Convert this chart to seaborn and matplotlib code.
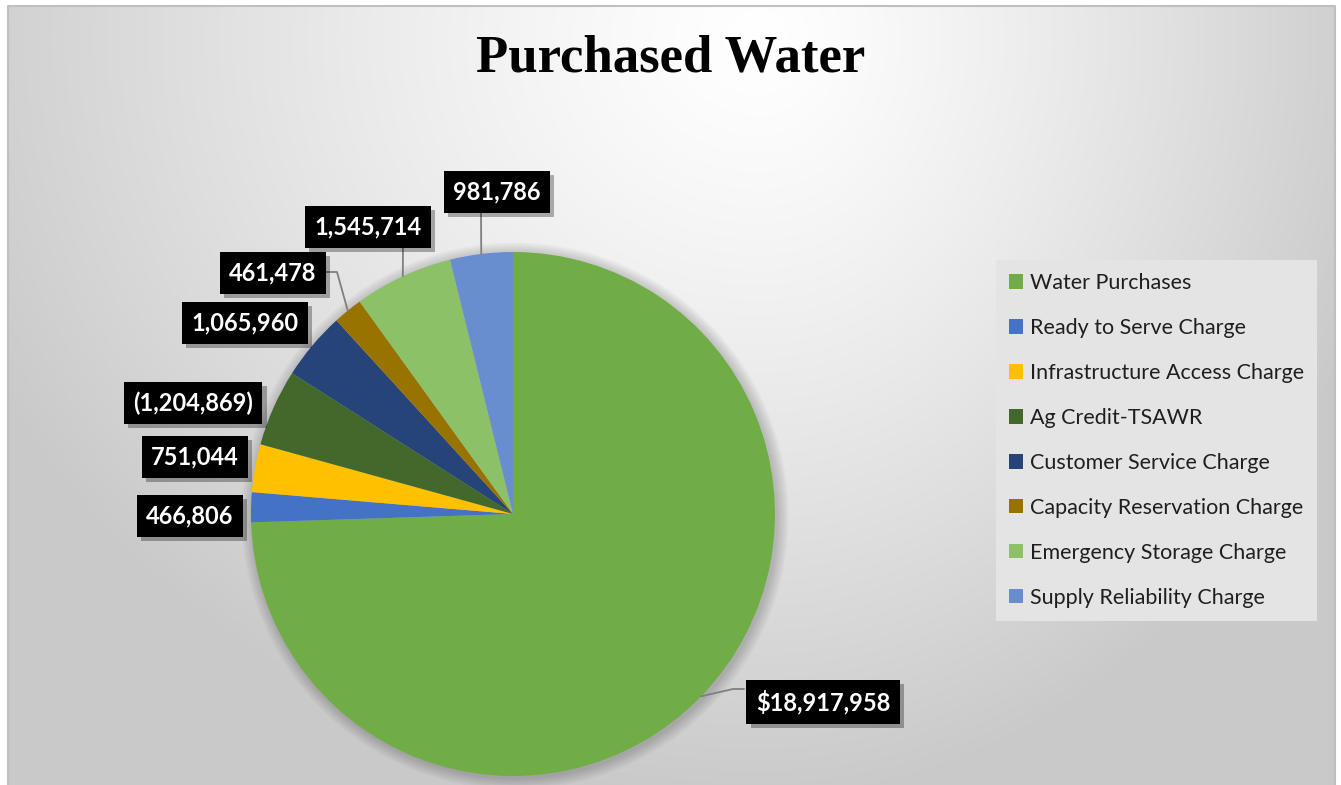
import numpy as np
import matplotlib
matplotlib.use("Agg")
import matplotlib.pyplot as plt
import matplotlib.patheffects as pe
from matplotlib.patches import Circle
import seaborn as sns

# ---- data ----
categories = ["Water Purchases", "Ready to Serve Charge", "Infrastructure Access Charge",
              "Ag Credit-TSAWR", "Customer Service Charge", "Capacity Reservation Charge",
              "Emergency Storage Charge", "Supply Reliability Charge"]
values = [18917958, 466806, 751044, -1204869, 1065960, 461478, 1545714, 981786]
colors = ["#70AD47", "#4472C4", "#FFC000", "#43682B", "#264478", "#997300", "#8CC168", "#698ED0"]
title = "Purchased Water"

# ---- layout (pixel coords, y from top) ----
W, H = 1341, 785
pie_c = (513, 514)
pie_r = 262
label_pos = [(823, 702), (190, 516), (195, 457), (193, 403), (245, 323), (273, 273), (368, 227), (497, 192)]
leader_pts = [[(733, 689), (744, 689)], None, None, None, None,
              [(337, 272), (325, 272)], [(403, 247)], [(481, 212)]]

sns.set_style("white")
plt.rcParams['font.family'] = ['Lato', 'DejaVu Sans']

fig = plt.figure(figsize=(W / 100, H / 100), dpi=100)
ax = fig.add_axes([0, 0, 1, 1])

# background gradient
yy, xx = np.mgrid[0:H, 0:W]
cx, cy = 760, 40
dx = xx - cx
sx = np.where(dx > 0, 640.0, 860.0)
d = np.sqrt((dx / sx) ** 2 + ((yy - cy) / 760.0) ** 2)
val = 1 - 0.21 * np.clip(d, 0, 1) ** 1.25
inside = (xx >= 8) & (xx <= 1335) & (yy >= 6)
val = np.where(inside, val, 1.0)
rgb = np.dstack([val, val, val])
ax.imshow(rgb, extent=[0, W, 0, H], origin="upper", zorder=0, interpolation="bilinear")
ax.plot([8, 8, 1335, 1335], [0, H - 6, H - 6, 0], color="#bfbfbf", lw=1.5, zorder=1)

def fy(y):
    return H - y

# soft pie shadow
for k in range(8):
    ax.add_patch(Circle((pie_c[0] + 2, fy(pie_c[1]) - 2), pie_r + 1 + k * 1.5,
                        facecolor="black", edgecolor="none", alpha=0.025, zorder=2))

sizes = [abs(v) for v in values]
wedges, _ = ax.pie(sizes, colors=colors, startangle=90, counterclock=False,
                   center=(pie_c[0], fy(pie_c[1])), radius=pie_r, frame=True,
                   wedgeprops=dict(linewidth=0, zorder=3))

ax.set_xlim(0, W)
ax.set_ylim(0, H)
ax.set_aspect("equal")
ax.axis("off")

# labels
for i, (w, v) in enumerate(zip(wedges, values)):
    if i == 0:
        txt = f"${v:,}"
    elif v < 0:
        txt = f"({abs(v):,})"
    else:
        txt = f"{v:,}"
    mid = np.deg2rad((w.theta1 + w.theta2) / 2)
    ax_x = pie_c[0] + pie_r * np.cos(mid)
    ax_y = fy(pie_c[1]) + pie_r * np.sin(mid)
    if leader_pts[i] is not None:
        xs = [ax_x] + [p[0] for p in leader_pts[i]]
        ys = [ax_y] + [fy(p[1]) for p in leader_pts[i]]
        ax.plot(xs, ys, color="#7f7f7f", lw=1.3, zorder=4)
    lx, ly = label_pos[i]
    t = ax.text(lx, fy(ly), txt, ha="center", va="center", color="white",
                fontsize=17, fontweight="bold", zorder=6,
                bbox=dict(boxstyle="square,pad=0.4", facecolor="black", edgecolor="none"))
    t.get_bbox_patch().set_path_effects([pe.SimplePatchShadow(offset=(3, -3), alpha=0.3), pe.Normal()])

fig.text(671 / W, 1 - 59 / H, title, ha="center", va="center",
         fontsize=38, fontweight="bold", family=["Liberation Serif", "DejaVu Serif"], color="black")

leg = ax.legend(wedges, categories, loc="upper left",
                bbox_to_anchor=(996 / W, 1 - 260 / H), bbox_transform=fig.transFigure,
                frameon=True, fancybox=False, facecolor="#e4e4e4", edgecolor="none", framealpha=1,
                fontsize=15.5, handlelength=0.66, handleheight=0.66, handletextpad=0.3,
                labelspacing=1.16, borderpad=0.6, borderaxespad=0)
for tx in leg.get_texts():
    tx.set_color("#1f1f1f")

fig.savefig("out.png", dpi=100)
